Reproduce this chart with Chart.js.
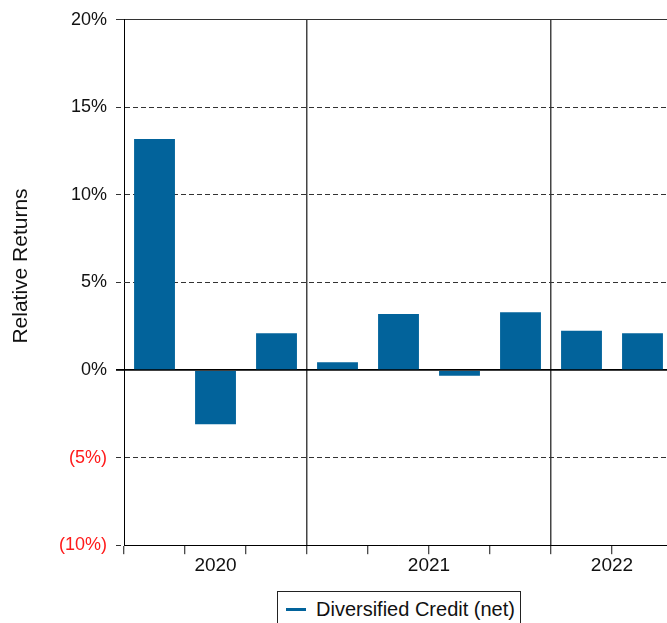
<!DOCTYPE html>
<html>
<head>
<meta charset="utf-8">
<script src="https://cdn.jsdelivr.net/npm/chart.js@4.4.1/dist/chart.umd.min.js"></script>
<style>
  html, body { margin: 0; padding: 0; background: #fff; overflow: hidden; }
  #wrap { position: relative; width: 680px; height: 623px; }
  #chartBox { position: absolute; left: 0; top: 0; width: 680px; height: 580px; }
  #yTitle {
    position: absolute; left: -80px; top: 254px; width: 200px; height: 24px;
    font-family: "Liberation Sans", Arial, sans-serif; font-size: 21px; line-height: 24px; color: #111;
    text-align: center; transform: rotate(-90deg); white-space: nowrap;
  }
  #legend {
    position: absolute; left: 277px; top: 591px; width: 244px; height: 40px;
    border: 1px solid #222; box-sizing: border-box;
    font-family: "Liberation Sans", Arial, sans-serif; font-size: 20px; line-height: 23px; color: #111;
    padding: 6px 0 0 8px; white-space: nowrap;
  }
  #legend .mark { display: inline-block; width: 20px; height: 3px; background: #02639b; vertical-align: middle; margin-right: 10px; position: relative; top: -1px; }
</style>
</head>
<body>
<div id="wrap">
  <div id="chartBox"><canvas id="barCanvas"></canvas></div>
  <div id="yTitle">Relative Returns</div>
  <div id="legend"><span class="mark"></span>Diversified Credit (net)</div>
</div>
<script>
// 資料
const quarterLabels = ['Q2 2020', 'Q3 2020', 'Q4 2020', 'Q1 2021', 'Q2 2021', 'Q3 2021', 'Q4 2021', 'Q1 2022', 'Q2 2022'];
const relativeReturns = [13.2, -3.1, 2.1, 0.45, 3.2, -0.33, 3.3, 2.25, 2.1];
const years = ['2020', '2021', '2022'];
const yearStart = [0, 3, 7];
const yTicks = [-10, -5, 0, 5, 10, 15, 20];
const seriesName = 'Diversified Credit (net)';

// 年份標籤位置（每年季度的中間）
const yearEnd = yearStart.slice(1).concat([quarterLabels.length]);
const yearCenters = yearStart.map((s, i) => (s + yearEnd[i]) / 2);

const barColor = '#02639b';
const fontFamily = '"Liberation Sans", Arial, sans-serif';

function fmtPct(v) {
  return v < 0 ? '(' + Math.abs(v) + '%)' : v + '%';
}
function yDash(ctx) {
  if (!ctx.tick) return [];
  const v = ctx.tick.value;
  return (v === 0 || v === yTicks[yTicks.length - 1]) ? [] : [5, 3];
}

var ctx = document.getElementById('barCanvas').getContext('2d');
var barChart = new Chart(ctx, {
  type: 'bar',
  data: {
    labels: quarterLabels,
    datasets: [{
      label: seriesName,
      data: relativeReturns,
      backgroundColor: barColor,
      borderWidth: 0,
      barPercentage: 0.67,
      categoryPercentage: 1.0
    }]
  },
  options: {
    responsive: true,
    maintainAspectRatio: false,
    animation: false,
    layout: { padding: { top: 14, right: 7, left: 50, bottom: 3 } },
    plugins: {
      legend: { display: false },
      tooltip: { enabled: false }
    },
    scales: {
      x: {
        type: 'category',
        position: 'bottom',
        offset: true,
        grid: {
          offset: true,
          drawOnChartArea: true,
          color: (c) => (c.index !== undefined && c.index > 0 && yearStart.includes(c.index)) ? '#444' : 'rgba(0,0,0,0)',
          lineWidth: 1.5,
          tickColor: '#111',
          tickLength: 9,
          tickWidth: 1
        },
        border: { display: true, color: '#000', width: 1 },
        ticks: { display: false }
      },
      x2: {
        type: 'linear',
        position: 'bottom',
        offset: false,
        min: 0,
        max: quarterLabels.length,
        afterBuildTicks: (axis) => {
          axis.ticks = yearCenters.map(v => ({ value: v }));
        },
        grid: { display: false, drawTicks: false, offset: false },
        border: { display: false },
        ticks: {
          padding: 0,
          color: '#111',
          font: { family: fontFamily, size: 19 },
          callback: (v, i) => years[i]
        }
      },
      y: {
        min: yTicks[0],
        max: yTicks[yTicks.length - 1],
        afterBuildTicks: (axis) => {
          axis.ticks = yTicks.map(v => ({ value: v }));
        },
        grid: {
          color: (c) => (c.tick && c.tick.value === 0) ? '#000' : '#333',
          lineWidth: (c) => (c.tick && c.tick.value === 0) ? 1.8 : 1,
          tickColor: (c) => (c.tick && c.tick.value === 0) ? '#000' : '#333',
          tickLength: 8,
          tickBorderDash: yDash
        },
        border: { display: true, color: '#000', width: 1, dash: yDash },
        ticks: {
          padding: 9,
          color: (c) => (c.tick && c.tick.value < 0) ? '#ff1a1a' : '#111',
          font: { family: fontFamily, size: 18 },
          callback: (v) => fmtPct(v)
        },
        title: { display: false }
      }
    }
  }
});
</script>
</body>
</html>
